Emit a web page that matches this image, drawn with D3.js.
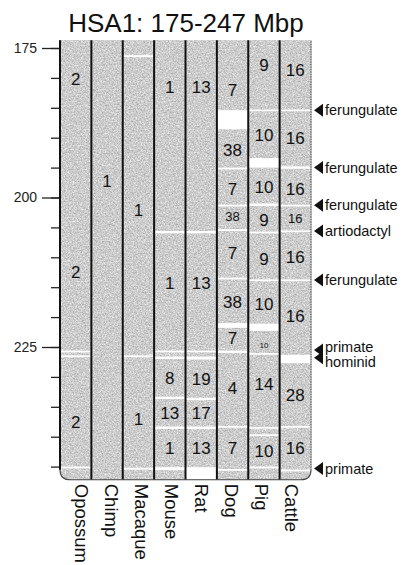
<!DOCTYPE html>
<html>
<head>
<meta charset="utf-8">
<script src="https://cdn.jsdelivr.net/npm/d3@7"></script>
<style>
body { margin: 0; background: #fff; }
text { font-family: "Liberation Sans", Arial, sans-serif; }
</style>
</head>
<body>
<div id="chart"></div>
<script>
var svgWidth = 404;
var svgHeight = 565;

var chartTitle = "HSA1: 175-247 Mbp";
var species = ["Opossum", "Chimp", "Macaque", "Mouse", "Rat", "Dog", "Pig", "Cattle"];
var majorTicks = [175, 200, 225];
var minorTicks = [175, 180, 185, 190, 195, 200, 205, 210, 215, 220, 225, 230, 235, 240, 245];
var regionSpan = [173.7, 247.2];

// white breaks in each genome, [from, to] in Mbp
var opossumBreaks = [[225.6, 225.9], [226.4, 226.7], [245.0, 245.3]];
var chimpBreaks = [];
var macaqueBreaks = [[176.2, 176.5], [226.4, 226.7], [245.2, 245.5]];
var mouseBreaks = [[205.6, 206.0], [225.6, 225.9], [226.6, 227.0], [233.3, 233.7], [238.3, 238.7], [245.1, 245.6]];
var ratBreaks = [[205.6, 206.0], [225.6, 225.9], [226.6, 227.1], [233.5, 233.9], [238.3, 238.7], [245.1, 247.2]];
var dogBreaks = [[185.4, 188.6], [195.0, 195.3], [201.2, 201.5], [205.3, 205.6], [213.4, 213.7], [221.0, 221.8], [225.6, 226.0], [238.2, 238.5], [245.4, 245.7]];
var pigBreaks = [[185.3, 185.5], [193.4, 195.0], [201.0, 201.4], [205.7, 206.0], [213.7, 214.0], [221.1, 222.3], [226.0, 226.3], [238.4, 238.6], [239.6, 239.8], [245.0, 245.3]];
var cattleBreaks = [[185.3, 185.5], [194.8, 195.2], [201.2, 201.5], [205.5, 205.8], [213.7, 214.0], [226.3, 227.7], [238.2, 238.5], [245.5, 245.8]];

// chromosome numbers written in the blocks, [label, Mbp]
var opossumCounts = [["2", 180.1], ["2", 212.4], ["2", 237.5]];
var chimpCounts = [["1", 197.3]];
var macaqueCounts = [["1", 202.1], ["1", 237.0]];
var mouseCounts = [["1", 181.5], ["1", 214.3], ["8", 230.2], ["13", 236.0], ["1", 241.9]];
var ratCounts = [["13", 181.5], ["13", 214.3], ["19", 230.3], ["17", 236.0], ["13", 241.9]];
var dogCounts = [["7", 182.0], ["38", 192.1], ["7", 198.5], ["38", 203.2], ["7", 209.3], ["38", 217.4], ["7", 223.5], ["4", 231.8], ["7", 241.9]];
var pigCounts = [["9", 177.8], ["10", 189.5], ["10", 198.2], ["9", 203.8], ["9", 210.2], ["10", 217.8], ["10", 224.7], ["14", 231.2], ["10", 242.3]];
var cattleCounts = [["16", 178.7], ["16", 190.1], ["16", 198.5], ["16", 203.5], ["16", 210.0], ["16", 219.8], ["28", 233.0], ["16", 241.9]];

var noteLabels = ["ferungulate", "ferungulate", "ferungulate", "artiodactyl", "ferungulate", "primate", "hominid", "primate"];
var notePos = [185.4, 195.0, 201.3, 205.6, 213.8, 225.5, 226.8, 245.3];

var breaks = [opossumBreaks, chimpBreaks, macaqueBreaks, mouseBreaks, ratBreaks, dogBreaks, pigBreaks, cattleBreaks];
var counts = [opossumCounts, chimpCounts, macaqueCounts, mouseCounts, ratCounts, dogCounts, pigCounts, cattleCounts];

// a few labels are squeezed into small blocks
var smallText = {"Dog:3": 13, "Pig:6": 8, "Cattle:3": 13};

var xScale = d3.scaleBand().domain(species).range([60, 311]);
var yScale = d3.scaleLinear().domain([175, 225]).range([48, 347]);
var labelScale = d3.scalePoint().domain(species).range([81, 291]);

var svg = d3.select("#chart")
    .append("svg")
    .attr("width", svgWidth)
    .attr("height", svgHeight);

var barTop = yScale(regionSpan[0]);
var barBottom = yScale(regionSpan[1]);
var barLeft = xScale.range()[0];
var barRight = xScale.range()[1];
var cornerR = 10;

var defs = svg.append("defs");
var grain = defs.append("filter")
    .attr("id", "grain")
    .attr("x", "0%").attr("y", "0%").attr("width", "100%").attr("height", "100%")
    .attr("color-interpolation-filters", "sRGB");
grain.append("feTurbulence")
    .attr("type", "fractalNoise")
    .attr("baseFrequency", 0.75)
    .attr("numOctaves", 3)
    .attr("seed", 7);
grain.append("feColorMatrix")
    .attr("type", "matrix")
    .attr("values", "0.5 0 0 0 0.55  0.5 0 0 0 0.55  0.5 0 0 0 0.55  0 0 0 0 1");

var outline = `M${barLeft},${barTop} L${barLeft},${barBottom - cornerR} ` +
    `Q${barLeft},${barBottom} ${barLeft + cornerR},${barBottom} ` +
    `L${barRight - cornerR},${barBottom} Q${barRight},${barBottom} ${barRight},${barBottom - cornerR} ` +
    `L${barRight},${barTop}`;

defs.append("clipPath").attr("id", "barClip")
    .append("path")
    .attr("d", outline + " Z");

var bars = svg.append("g").attr("clip-path", "url(#barClip)");

bars.append("rect")
    .attr("x", barLeft)
    .attr("y", barTop)
    .attr("width", barRight - barLeft)
    .attr("height", barBottom - barTop)
    .attr("fill", "#c8c8c8");

bars.append("rect")
    .attr("x", barLeft)
    .attr("y", barTop)
    .attr("width", barRight - barLeft)
    .attr("height", barBottom - barTop)
    .attr("filter", "url(#grain)");

species.forEach((sp, i) => {
    bars.append("g").selectAll("rect")
        .data(breaks[i])
        .enter()
        .append("rect")
        .attr("x", xScale(sp))
        .attr("width", xScale.bandwidth())
        .attr("y", d => yScale(d[0]))
        .attr("height", d => Math.max(1.6, yScale(d[1]) - yScale(d[0])))
        .attr("fill", "#fff");
});

// column dividers
svg.append("g").selectAll("line")
    .data(species.slice(1))
    .enter()
    .append("line")
    .attr("x1", d => xScale(d))
    .attr("x2", d => xScale(d))
    .attr("y1", barTop)
    .attr("y2", barBottom)
    .attr("stroke", "#111")
    .attr("stroke-width", 2);

svg.append("path")
    .attr("d", outline)
    .attr("fill", "none")
    .attr("stroke", "#444")
    .attr("stroke-width", 1.1);

svg.append("line")
    .attr("x1", barLeft).attr("x2", barLeft)
    .attr("y1", barTop).attr("y2", barBottom - cornerR)
    .attr("stroke", "#111")
    .attr("stroke-width", 2);

svg.append("line")
    .attr("x1", barRight).attr("x2", barRight)
    .attr("y1", barTop).attr("y2", barBottom - cornerR)
    .attr("stroke", "#fff")
    .attr("stroke-width", 1.2)
    .attr("stroke-dasharray", "1,1.5");

// numbers in blocks
species.forEach((sp, i) => {
    svg.append("g").selectAll("text")
        .data(counts[i])
        .enter()
        .append("text")
        .attr("x", xScale(sp) + xScale.bandwidth() / 2)
        .attr("y", d => yScale(d[1]))
        .attr("dy", "0.36em")
        .attr("text-anchor", "middle")
        .attr("font-size", (d, j) => (smallText[sp + ":" + j] || 17) + "px")
        .attr("fill", "#111")
        .text(d => d[0]);
});

// y axis
var majorAxis = d3.axisLeft(yScale)
    .tickValues(majorTicks)
    .tickSize(17)
    .tickPadding(5)
    .tickFormat(d3.format("d"));
var minorAxis = d3.axisLeft(yScale)
    .tickValues(minorTicks)
    .tickSize(8)
    .tickFormat("");

var minorGroup = svg.append("g")
    .attr("transform", `translate(${barLeft - 1},0)`)
    .call(minorAxis);
var majorGroup = svg.append("g")
    .attr("transform", `translate(${barLeft - 1},0)`)
    .call(majorAxis);

[minorGroup, majorGroup].forEach(g => {
    g.select(".domain").remove();
    g.selectAll(".tick line").attr("stroke", "#222").attr("stroke-width", 1.3);
});
majorGroup.selectAll(".tick text")
    .attr("font-size", "14px")
    .attr("font-family", "Liberation Sans, Arial, sans-serif")
    .attr("fill", "#222");

// title
svg.append("text")
    .attr("x", 186)
    .attr("y", 32)
    .attr("text-anchor", "middle")
    .attr("font-size", "26px")
    .attr("fill", "#111")
    .text(chartTitle);

// species labels
svg.append("g").selectAll("text")
    .data(species)
    .enter()
    .append("text")
    .attr("transform", d => `translate(${labelScale(d)},${barBottom + 4}) rotate(90)`)
    .attr("dy", "0.35em")
    .attr("font-size", "18.5px")
    .attr("fill", "#111")
    .text(d => d);

// annotations on the right
var noteY = notePos.map(p => yScale(p));
var textY = noteY.slice();
for (var k = 1; k < textY.length; k++) {
    if (textY[k] - textY[k - 1] < 15) {
        var mid = (textY[k] + textY[k - 1]) / 2;
        textY[k - 1] = mid - 7.5;
        textY[k] = mid + 7.5;
    }
}

var notes = svg.append("g");
notes.selectAll("path")
    .data(noteY)
    .enter()
    .append("path")
    .attr("d", y => `M${barRight + 3},${y} L${barRight + 12},${y - 6.5} L${barRight + 12},${y + 6.5} Z`)
    .attr("fill", "#111");

notes.selectAll("text")
    .data(noteLabels)
    .enter()
    .append("text")
    .attr("x", barRight + 14)
    .attr("y", (d, i) => textY[i])
    .attr("dy", "0.36em")
    .attr("font-size", "14.5px")
    .attr("fill", "#111")
    .text(d => d);
</script>
</body>
</html>
